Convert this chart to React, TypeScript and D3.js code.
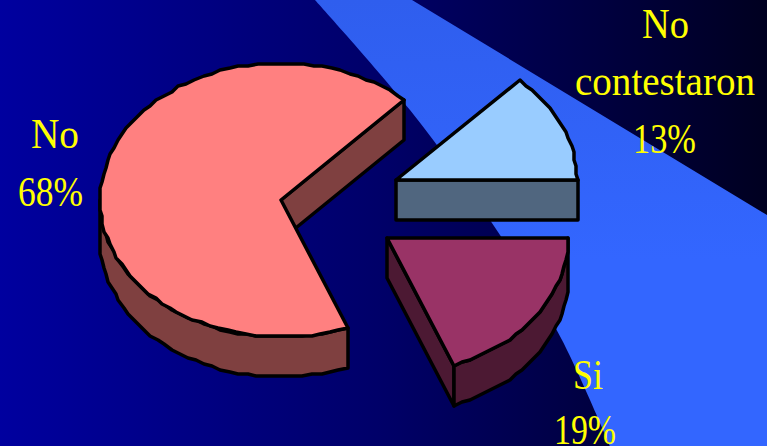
import React from 'react'
import * as d3 from 'd3'

const labels = ['No contestaron', 'Si', 'No']
const values = [13, 19, 68]
const topColors = ['#99ccff', '#993366', '#ff8080']
const sideColors = ['#50667f', '#4c1933', '#7f4040']

// where each slice was pulled out to
const apexX = [396, 387, 281]
const apexY = [180, 238, 200]

// label lines: text, left edge, width, baseline
const labelLines = [
  ['No', 'contestaron', '13%'],
  ['Si', '19%'],
  ['No', '68%'],
]
const labelLeft = [[642, 575, 633], [573, 554], [31, 18]]
const labelWidth = [[47, 180, 63], [30, 62], [48, 65]]
const labelBase = [[38, 95, 153], [389, 444], [148, 206]]

// left edge of the light wedge behind the pie
const wedgeEdge: [number, number][] = [[315, 0], [410, 110], [500, 235], [562, 340], [610, 446]]

const width = 767
const height = 446
const radiusX = 181
const radiusY = 137
const depth = 40

const pie = d3.pie<number>().sort(null).startAngle(43.2 * Math.PI / 180).endAngle((43.2 + 360) * Math.PI / 180)
const slices = pie(values)

// the original outline is a low-res metafile, hence the coarse grid
const snap = (v: number) => Math.round(v / 2) * 2

const rim = (i: number, a0: number, a1: number) => {
  const n = Math.max(2, Math.ceil(Math.abs(a1 - a0) / (3 * Math.PI / 180)))
  return d3.range(n + 1).map(k => {
    const a = a0 + (a1 - a0) * k / n
    return [snap(apexX[i] + radiusX * Math.sin(a)), snap(apexY[i] - radiusY * Math.cos(a))] as [number, number]
  })
}

const line = d3.line()
const edgeLine = d3.line().curve(d3.curveCatmullRom)

const App = () => {
  const wedge = edgeLine(wedgeEdge)!.replace(/^M/, 'L')
  return (
    <svg width={width} height={height} style={{ position: 'absolute', left: 0, top: 0 }}>
      <defs>
        <linearGradient id="bg" x1="0" x2="1" y1="0" y2="0">
          <stop offset="0" stopColor="#00009f" />
          <stop offset="0.5" stopColor="#000068" />
          <stop offset="1" stopColor="#000020" />
        </linearGradient>
        <linearGradient id="wedge" gradientUnits="userSpaceOnUse" x1="0" x2="0" y1="0" y2="260">
          <stop offset="0" stopColor="#2f5eee" />
          <stop offset="1" stopColor="#3366ff" />
        </linearGradient>
      </defs>
      <rect width={width} height={height} fill="url(#bg)" />
      <path d={`M767,446 L767,215 L412,0 ${wedge} Z`} fill="url(#wedge)" />
      {slices.map((s, i) => {
        const a0 = s.startAngle
        const a1 = s.endAngle
        const x = apexX[i]
        const y = apexY[i]
        const arc = rim(i, a0, a1)
        const topPath = line([[x, y], ...arc])! + 'Z'
        // outer wall: only the part of the rim facing the viewer
        const wall0 = Math.max(a0, Math.PI / 2)
        const wall1 = Math.min(a1, 1.5 * Math.PI)
        const outer = wall1 > wall0 ? rim(i, wall0, wall1) : []
        const outerPath = outer.length
          ? line([...outer, ...outer.slice().reverse().map(p => [p[0], p[1] + depth] as [number, number])])! + 'Z'
          : null
        // cut face at the end of the slice
        const p1 = arc[arc.length - 1]
        const face: [number, number][] = [[x, y], p1, [p1[0], p1[1] + depth], [x, y + depth]]
        return (
          <g key={labels[i]} stroke="#000" strokeWidth={3.5} strokeLinejoin="round">
            <path d={line(face)! + 'Z'} fill={sideColors[i]} />
            {outerPath && <path d={outerPath} fill={sideColors[i]} />}
            <path d={topPath} fill={topColors[i]} />
          </g>
        )
      })}
      {labelLines.map((lines, i) => (
        <text key={labels[i]} fontFamily="Liberation Serif" fontSize={42} fill="#ffff00">
          {lines.map((t, k) => (
            <tspan key={t} x={labelLeft[i][k]} y={labelBase[i][k]} textLength={labelWidth[i][k]} lengthAdjust="spacingAndGlyphs">{t}</tspan>
          ))}
        </text>
      ))}
    </svg>
  )
}

export default App
